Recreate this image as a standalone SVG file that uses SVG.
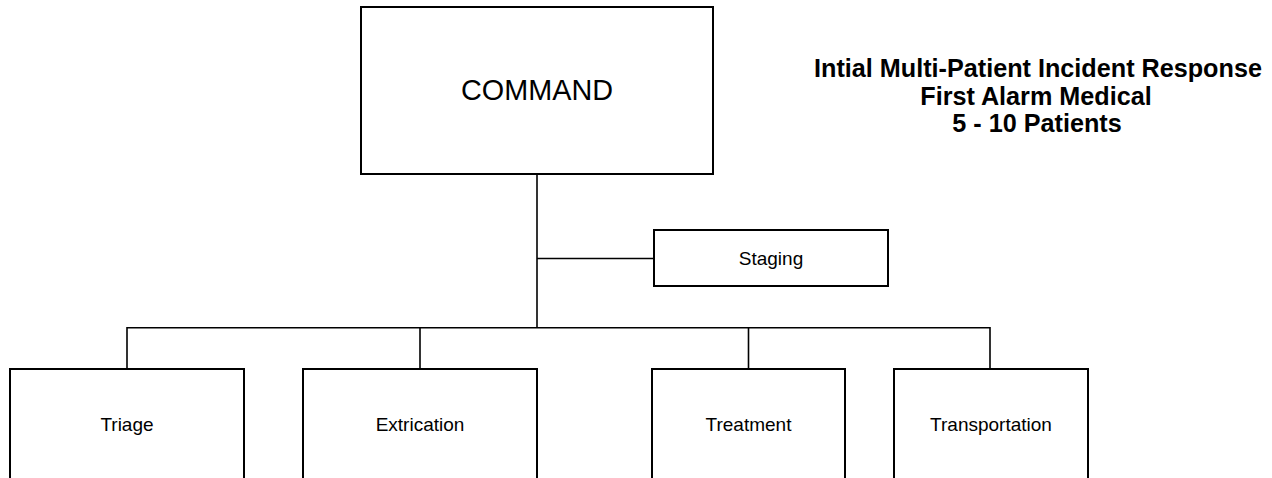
<svg xmlns="http://www.w3.org/2000/svg" width="1272" height="478" viewBox="0 0 1272 478">
  <style>
    .box { fill: #ffffff; stroke: #000000; stroke-width: 2; }
    .wire { fill: none; stroke: #000000; stroke-width: 1.6; }
    .lbl { font-family: "Liberation Sans", Arial, sans-serif; fill: #000000; text-anchor: middle; }
    .small { font-size: 19px; }
    .big { font-size: 28.8px; }
    .title { font-size: 25.2px; font-weight: bold; }
  </style>
  <rect width="1272" height="478" fill="#ffffff"/>

  <!-- connectors -->
  <g id="connectors">
    <path class="wire" d="M537 174 V328"/>
    <path class="wire" d="M537 258.5 H654"/>
    <path class="wire" d="M127 369 V327.7 H990 V369"/>
    <path class="wire" d="M420 327.7 V369"/>
    <path class="wire" d="M748.5 327.7 V369"/>
  </g>

  <g id="command">
    <rect class="box" x="361" y="7" width="352" height="167"/>
    <text class="lbl big" x="537" y="99.5">COMMAND</text>
  </g>

  <g id="staging">
    <rect class="box" x="654" y="230" width="234" height="56"/>
    <text class="lbl small" x="771" y="264.5">Staging</text>
  </g>

  <g id="triage">
    <rect class="box" x="10" y="369" width="234" height="130"/>
    <text class="lbl small" x="127" y="431">Triage</text>
  </g>

  <g id="extrication">
    <rect class="box" x="303" y="369" width="234" height="130"/>
    <text class="lbl small" x="420" y="431">Extrication</text>
  </g>

  <g id="treatment">
    <rect class="box" x="652" y="369" width="193" height="130"/>
    <text class="lbl small" x="748.5" y="431">Treatment</text>
  </g>

  <g id="transportation">
    <rect class="box" x="894" y="369" width="194" height="130"/>
    <text class="lbl small" x="991" y="431">Transportation</text>
  </g>

  <g id="title">
    <text class="lbl title" x="1038" y="77">Intial Multi-Patient Incident Response</text>
    <text class="lbl title" x="1036" y="104.5">First Alarm Medical</text>
    <text class="lbl title" x="1037" y="131.5">5 - 10 Patients</text>
  </g>
</svg>
